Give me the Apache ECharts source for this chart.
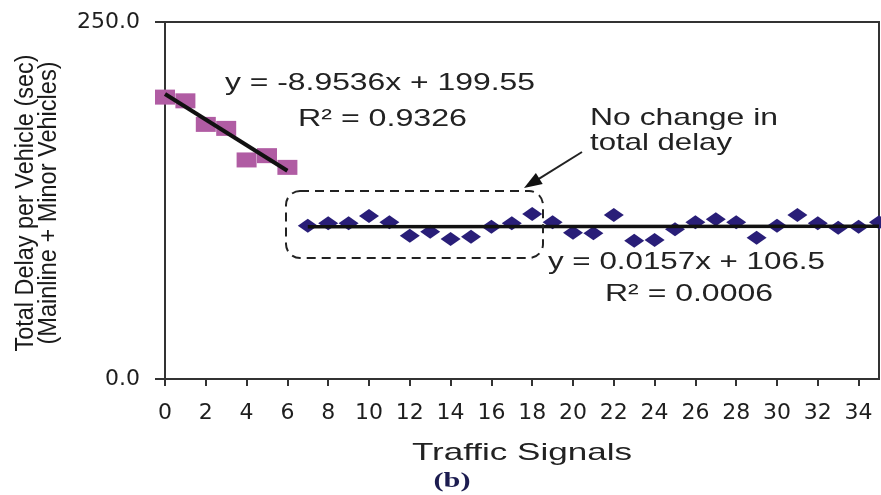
<!DOCTYPE html>
<html><head><meta charset="utf-8">
<script src="https://cdn.jsdelivr.net/npm/echarts@6/dist/echarts.min.js"></script>
<style>html,body{margin:0;padding:0;background:#fff}#c{width:881px;height:495px}</style>
</head><body><div id="c"></div>
<script>
// ---- data ----
const beforeX = [0, 1, 2, 3, 4, 5, 6];
const beforeY = [197.4, 194.8, 178.3, 175.5, 153.4, 156.4, 148.2];
const afterX = [7, 8, 9, 10, 11, 12, 13, 14, 15, 16, 17, 18, 19, 20, 21, 22, 23, 24, 25, 26, 27, 28, 29, 30, 31, 32, 33, 34, 35];
const afterY = [107.4, 109.0, 109.0, 114.1, 109.7, 100.4, 103.2, 98.0, 99.7, 106.7, 109.0, 115.5, 109.7, 102.5, 102.0, 114.8, 96.9, 97.3, 104.8, 109.7, 111.8, 109.7, 99.0, 107.4, 114.8, 109.0, 106.0, 106.7, 109.7];
const fit1Coef = [-8.9536, 199.55];   // slope, intercept
const fit1Range = [0, 6];
const fit2Coef = [0.0157, 106.5];
const fit2Range = [7, 35];
const xTickValues = [0, 2, 4, 6, 8, 10, 12, 14, 16, 18, 20, 22, 24, 26, 28, 30, 32, 34];
const yTickValues = [0, 250];

const pts = (xs, ys) => xs.map((x, i) => [x, ys[i]]);
const fitLine = (c, r) => r.map(x => [x, c[0] * x + c[1]]);

// ---- text helper: fit text into measured width ----
const cv = document.createElement('canvas').getContext('2d');
function fitText(o) {
  const font = (o.weight || 'normal') + ' ' + o.size + 'px ' + o.family;
  cv.font = font;
  const w = cv.measureText(o.text).width;
  const s = o.len / w;
  return {
    type: 'text', z: 100,
    x: o.x, y: o.y,
    rotation: o.rot || 0,
    scaleX: s, scaleY: 1,
    style: {
      text: o.text, fill: o.color || '#222',
      fontSize: o.size, fontFamily: o.family, fontWeight: o.weight || 'normal',
      align: o.align || 'left', verticalAlign: 'middle'
    }
  };
}
const SANS = '"Liberation Sans", Arial, sans-serif';
const NARROW = '"Liberation Sans Narrow", "Liberation Sans", sans-serif';

const texts = [
  fitText({text: 'y = -8.9536x + 199.55', x: 225, y: 83, len: 310, size: 24, family: SANS}),
  fitText({text: 'R\u00B2 = 0.9326', x: 298, y: 119, len: 169, size: 24, family: SANS}),
  fitText({text: 'No change in', x: 590, y: 118, len: 188, size: 24, family: SANS}),
  fitText({text: 'total delay', x: 590, y: 143, len: 142, size: 24, family: SANS}),
  fitText({text: 'y = 0.0157x + 106.5', x: 548, y: 262, len: 277, size: 24, family: SANS}),
  fitText({text: 'R\u00B2 = 0.0006', x: 605, y: 294, len: 168, size: 24, family: SANS}),
  fitText({text: 'Traffic Signals', x: 522, y: 453, len: 220, size: 24, family: SANS, align: 'center'}),
  fitText({text: '(b)', x: 452, y: 481, len: 37, size: 22, family: '"Liberation Serif", "Times New Roman", serif', weight: 'bold', color: '#1c1c50', align: 'center'}),
  fitText({text: 'Total Delay per Vehicle (sec)', x: 26, y: 203, len: 297, size: 26, family: NARROW, align: 'center', rot: Math.PI / 2, color: '#1a1a1a'}),
  fitText({text: '(Mainline + Minor Vehicles)', x: 49, y: 203, len: 283, size: 26, family: NARROW, align: 'center', rot: Math.PI / 2, color: '#1a1a1a'})
];

// arrow
const tail = [582, 152], tip = [524, 188];
const dx = tip[0] - tail[0], dy = tip[1] - tail[1], dl = Math.hypot(dx, dy);
const ux = dx / dl, uy = dy / dl, hl = 18, hw = 6.5;
const bx = tip[0] - ux * hl, by = tip[1] - uy * hl;
const arrow = [
  {type: 'line', z: 100, shape: {x1: tail[0], y1: tail[1], x2: bx + ux * 2, y2: by + uy * 2}, style: {stroke: '#222', lineWidth: 2}},
  {type: 'polygon', z: 100, shape: {points: [tip, [bx - uy * hw, by + ux * hw], [bx + uy * hw, by - ux * hw]]}, style: {fill: '#111'}}
];
const box = {type: 'rect', z: 100, shape: {x: 286, y: 191, width: 257, height: 67, r: 14},
  style: {fill: null, stroke: '#222', lineWidth: 2, lineDash: [9, 6]}};

const chart = echarts.init(document.getElementById('c'), null, {renderer: 'canvas'});
const labelFont = {fontFamily: 'DejaVu Sans', fontSize: 22, color: '#1e1e1e'};
chart.setOption({
  animation: false,
  backgroundColor: '#fff',
  grid: {left: 165, right: 2, top: 22, bottom: 116, show: true, borderColor: '#333', borderWidth: 2, backgroundColor: 'transparent'},
  xAxis: {
    type: 'value', min: 0, max: 35, interval: 2,
    splitLine: {show: false},
    axisLine: {onZero: false, lineStyle: {color: '#333', width: 2}},
    axisTick: {show: true, length: 7, customValues: xTickValues, lineStyle: {color: '#333', width: 2}},
    axisLabel: Object.assign({margin: 23, customValues: xTickValues}, labelFont)
  },
  yAxis: {
    type: 'value', min: 0, max: 250, interval: 250,
    splitLine: {show: false},
    axisLine: {show: true, lineStyle: {color: '#333', width: 2}},
    axisTick: {show: true, length: 10, customValues: yTickValues, lineStyle: {color: '#333', width: 2}},
    axisLabel: Object.assign({margin: 25, customValues: yTickValues, formatter: v => Number(v).toFixed(1)}, labelFont)
  },
  series: [
    {type: 'scatter', data: pts(beforeX, beforeY), symbol: 'rect', symbolSize: [20, 15], itemStyle: {color: '#b05ca3', opacity: 1}, z: 2},
    {type: 'scatter', data: pts(afterX, afterY), symbol: 'diamond', symbolSize: [20, 14], itemStyle: {color: '#291e78', opacity: 1}, z: 2},
    {type: 'line', data: fitLine(fit1Coef, fit1Range), symbol: 'none', lineStyle: {color: '#111', width: 4}, z: 5},
    {type: 'line', data: fitLine(fit2Coef, fit2Range), symbol: 'none', lineStyle: {color: '#111', width: 3.5}, z: 5}
  ],
  graphic: texts.concat(arrow, [box])
});
</script></body></html>
